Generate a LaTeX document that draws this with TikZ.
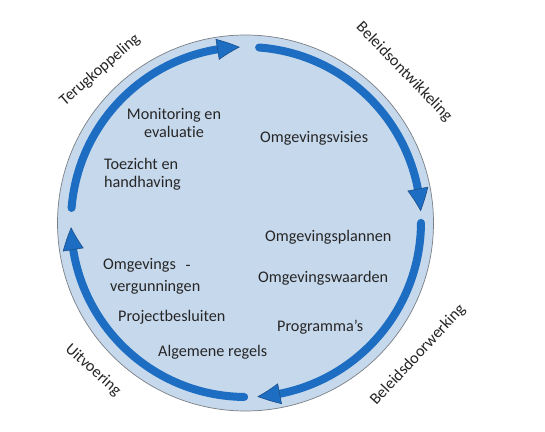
\documentclass[tikz,border=0pt]{standalone}
\usepackage{fontspec}
\setmainfont{Carlito}[Ligatures=CommonOff]
\usetikzlibrary{arrows.meta,bending}
\definecolor{ringblue}{HTML}{1D6EC2}
\definecolor{tipedge}{HTML}{1B4F8A}
\definecolor{discfill}{HTML}{C6D8EC}
\definecolor{discedge}{HTML}{7A7F86}
\definecolor{txt}{HTML}{262626}
\begin{document}
\begin{tikzpicture}[x=1pt,y=1pt,
  ringarrow/.style={line width=8pt, draw=ringblue, line cap=round,
    -{Triangle[length=23pt,width=21pt,color=tipedge,fill=ringblue,line width=0.6pt,bend]}},
  lbl/.style={text=txt, inner sep=0pt, font=\fontsize{16.2}{18}\selectfont},
]
\useasboundingbox (0,0) rectangle (545,431);
\fill[white] (0,0) rectangle (545,431);
\node[circle, minimum size=376pt, draw=discedge, fill=discfill, line width=0.7pt, inner sep=0pt] (disc) at (245.5,208) {};
\coordinate (c) at (246,209);
\coordinate (a0) at ([shift={(175.4:175)}]c);
\coordinate (b0) at ([shift={(85.7:175)}]c);
\coordinate (c0) at ([shift={(-0.3:175)}]c);
\coordinate (d0) at ([shift={(-90.6:175)}]c);
\draw[ringarrow] (a0) arc[start angle=175.4, end angle=92, radius=175];
\draw[ringarrow] (b0) arc[start angle=85.7, end angle=3.5, radius=175];
\draw[ringarrow] (c0) arc[start angle=-0.3, end angle=-86.3, radius=175];
\draw[ringarrow] (d0) arc[start angle=-90.6, end angle=-178.3, radius=175];

\node[lbl, align=center] (mon) at (174,308) {Monitoring en\\evaluatie};
\node[lbl, align=left, anchor=west] (toe) at (104,257) {Toezicht en\\handhaving};
\node[lbl, anchor=west] (vis) at (260,293) {Omgevingsvisies};
\node[lbl, anchor=west] (pla) at (265,194) {Omgevingsplannen};
\node[lbl, anchor=west] (waa) at (258,153) {Omgevingswaarden};
\node[lbl, anchor=west] (pro) at (277,104) {Programma’s};
\node[lbl, anchor=west] (omg) at (103,166) {Omgevings};
\node[lbl] (dash) at (188,163) {-};
\node[lbl, anchor=west] (ver) at (110,144) {vergunningen};
\node[lbl, anchor=west] (pbs) at (118,114) {Projectbesluiten};
\node[lbl, anchor=west] (alg) at (158,79) {Algemene regels};

\node[lbl, rotate=41] (ter) at (100,361) {Terugkoppeling};
\node[lbl, rotate=-46] (bon) at (404,359) {Beleidsontwikkeling};
\node[lbl, rotate=47] (bdw) at (418,76) {Beleidsdoorwerking};
\node[lbl, rotate=-42] (uit) at (93,61) {Uitvoering};
\end{tikzpicture}
\end{document}
